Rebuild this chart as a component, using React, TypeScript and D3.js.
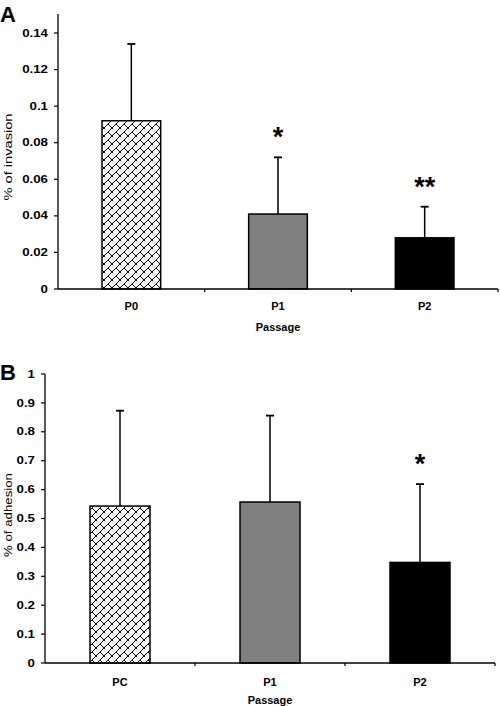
import React from "react";
import * as d3 from "d3";

// Panel A data
const categoriesA = ["P0", "P1", "P2"];
const valuesA = [0.092, 0.041, 0.028];
const errorsA = [0.042, 0.031, 0.017];
const sigA = ["", "*", "**"];
const ticksA = [0, 0.02, 0.04, 0.06, 0.08, 0.1, 0.12, 0.14];
const tickLabelsA = ["0", "0.02", "0.04", "0.06", "0.08", "0.1", "0.12", "0.14"];

// Panel B data
const categoriesB = ["PC", "P1", "P2"];
const valuesB = [0.543, 0.557, 0.348];
const errorsB = [0.33, 0.299, 0.271];
const sigB = ["", "", "*"];
const ticksB = [0, 0.1, 0.2, 0.3, 0.4, 0.5, 0.6, 0.7, 0.8, 0.9, 1];
const tickLabelsB = ["0", "0.1", "0.2", "0.3", "0.4", "0.5", "0.6", "0.7", "0.8", "0.9", "1"];

const fills = ["url(#brick)", "#808080", "#000000"];

type PanelProps = {
  letter: string;
  letterY: number;
  categories: string[];
  values: number[];
  errors: number[];
  sig: string[];
  ticks: number[];
  tickLabels: string[];
  x0: number;
  x1: number;
  y0: number;
  yTopPx: number;
  yTopVal: number;
  axisTop: number;
  ylabel: string;
  ylabelCenter: number;
  ylabelLen: number;
  catLabelY: number;
  titleY: number;
  tickLabelRight: number;
};

function Panel(p: PanelProps) {
  const x = d3.scaleBand<string>().domain(p.categories).range([p.x0, p.x1]).padding(0);
  const y = d3.scaleLinear().domain([0, p.yTopVal]).range([p.y0, p.yTopPx]);
  const bw = x.bandwidth() * 0.4;
  const font = "'Liberation Sans', Arial, sans-serif";
  return (
    <g>
      <text x={0} y={p.letterY} fontFamily={font} fontWeight="bold" fontSize={22}>{p.letter}</text>
      {p.categories.map((c, i) => {
        const cx = (x(c) as number) + x.bandwidth() / 2;
        const top = y(p.values[i]);
        const et = y(p.values[i] + p.errors[i]);
        return (
          <g key={c}>
            <line x1={cx} x2={cx} y1={top} y2={et} stroke="#000" strokeWidth={1.5} />
            <line x1={cx - 4} x2={cx + 4} y1={et} y2={et} stroke="#000" strokeWidth={1.8} />
            <rect x={cx - bw / 2} y={top} width={bw} height={p.y0 - top} fill={fills[i]} stroke="#000" strokeWidth={1.5} />
            {p.sig[i] ? (
              <text x={cx} y={et - 11} textAnchor="middle" fontFamily={font} fontWeight="bold" fontSize={27}>{p.sig[i]}</text>
            ) : null}
          </g>
        );
      })}
      <line x1={p.x0} x2={p.x0} y1={p.axisTop} y2={p.y0} stroke="#000" strokeWidth={1.3} />
      {p.ticks.map((t, i) => (
        <g key={i}>
          <line x1={p.x0 - 4} x2={p.x0} y1={y(t)} y2={y(t)} stroke="#000" strokeWidth={1.2} />
          <text transform={`translate(${p.tickLabelRight},${y(t) + 3.6}) scale(1.33,1)`} textAnchor="end" fontFamily={font} fontWeight="bold" fontSize={10}>{p.tickLabels[i]}</text>
        </g>
      ))}
      <line x1={p.x0} x2={p.x1} y1={p.y0} y2={p.y0} stroke="#000" strokeWidth={1.3} />
      {p.categories.map((c) => (
        <line key={c} x1={(x(c) as number) + x.bandwidth()} x2={(x(c) as number) + x.bandwidth()} y1={p.y0} y2={p.y0 + 3} stroke="#000" strokeWidth={1.2} />
      ))}
      {p.categories.map((c) => (
        <text key={c} x={(x(c) as number) + x.bandwidth() / 2} y={p.catLabelY} textAnchor="middle" fontFamily={font} fontWeight="bold" fontSize={11}>{c}</text>
      ))}
      <text x={(p.x0 + p.x1) / 2} y={p.titleY} textAnchor="middle" fontFamily={font} fontWeight="bold" fontSize={11}>Passage</text>
      <text transform={`translate(12,${p.ylabelCenter}) rotate(-90)`} textAnchor="middle" fontFamily={font} fontSize={10} textLength={p.ylabelLen} lengthAdjust="spacingAndGlyphs">{p.ylabel}</text>
    </g>
  );
}

export default function App() {
  return (
    <svg width={500} height={706} style={{ position: "absolute", left: 0, top: 0, background: "#fff" }}>
      <defs>
        <pattern id="brick" patternUnits="userSpaceOnUse" width={8} height={8}>
          <rect width={8} height={8} fill="#fff" />
          <path d="M-2,10 L10,-2 M-2,2 L2,-2 M6,10 L10,6 M4,4 L9,9 M-1,-1 L1,1" stroke="#000" strokeWidth={1} fill="none" />
        </pattern>
      </defs>
      <rect width={500} height={706} fill="#fff" />
      <Panel
        letter="A" letterY={22}
        categories={categoriesA} values={valuesA} errors={errorsA} sig={sigA}
        ticks={ticksA} tickLabels={tickLabelsA}
        x0={58} x1={498} y0={289} yTopPx={33} yTopVal={0.14} axisTop={14}
        ylabel="% of invasion" ylabelCenter={157} ylabelLen={87}
        catLabelY={310} titleY={331} tickLabelRight={48}
      />
      <Panel
        letter="B" letterY={380}
        categories={categoriesB} values={valuesB} errors={errorsB} sig={sigB}
        ticks={ticksB} tickLabels={tickLabelsB}
        x0={45} x1={495} y0={663} yTopPx={374} yTopVal={1} axisTop={374}
        ylabel="% of adhesion" ylabelCenter={515} ylabelLen={84}
        catLabelY={686} titleY={704} tickLabelRight={35}
      />
    </svg>
  );
}
